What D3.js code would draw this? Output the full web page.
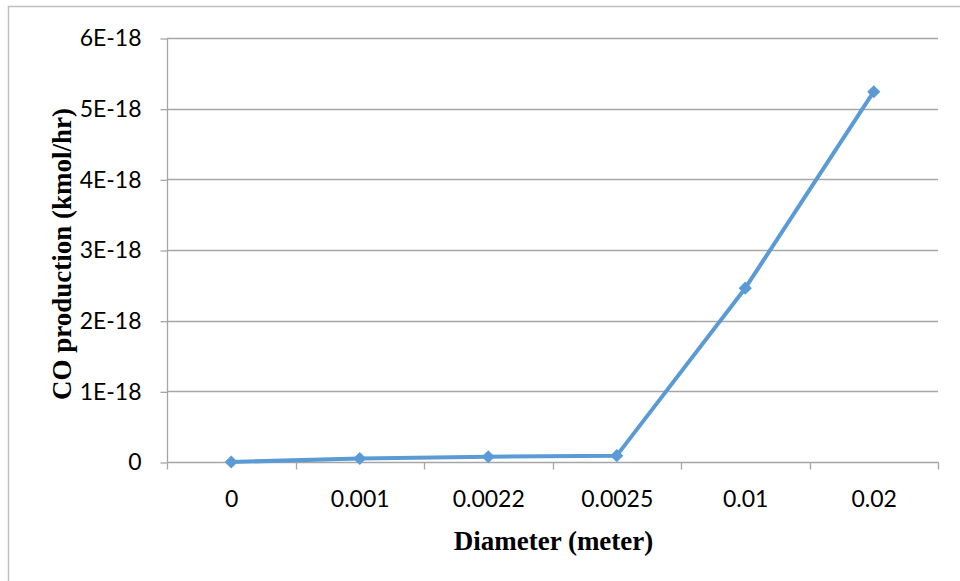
<!DOCTYPE html>
<html><head><meta charset="utf-8">
<script src="https://cdnjs.cloudflare.com/ajax/libs/d3/7.8.5/d3.min.js"></script>
<style>body{margin:0;background:#fff}svg{display:block}</style>
</head><body>
<script>
const categories = ["0", "0.001", "0.0022", "0.0025", "0.01", "0.02"];
const values = [0, 5e-20, 7.5e-20, 9e-20, 2.46e-18, 5.24e-18];
const yTicks = [0, 1e-18, 2e-18, 3e-18, 4e-18, 5e-18, 6e-18];
const yTickLabels = ["0", "1E-18", "2E-18", "3E-18", "4E-18", "5E-18", "6E-18"];
const xTitle = "Diameter (meter)";
const yTitle = "CO production (kmol/hr)";

const W = 960, H = 581;
const m = {left: 167, right: 22, top: 38, bottom: 119};
const svg = d3.select("body").append("svg").attr("width", W).attr("height", H);
svg.append("rect").attr("x", 8.5).attr("y", 6.5).attr("width", 960).attr("height", 600)
  .attr("fill", "#fff").attr("stroke", "#bfbfbf").attr("stroke-width", 1.5);

const x = d3.scaleBand().domain(categories).range([m.left, W - m.right]);
const y = d3.scaleLinear().domain([0, 6e-18]).range([H - m.bottom, m.top]);

const g = svg.append("g");
g.selectAll("line.grid").data(yTicks.slice(1)).join("line").attr("class", "grid")
  .attr("x1", m.left).attr("x2", W - m.right)
  .attr("y1", d => Math.round(y(d)) + 0.5).attr("y2", d => Math.round(y(d)) + 0.5)
  .attr("stroke", "#a6a6a6").attr("stroke-width", 1.3);

const tickFont = "Lato, 'Open Sans', sans-serif";
const yAxis = d3.axisLeft(y).tickValues(yTicks).tickSize(7).tickPadding(19)
  .tickFormat((d, i) => yTickLabels[i]);
const ya = svg.append("g").attr("transform", `translate(${m.left + 0.5},0.5)`).call(yAxis)
  .attr("font-size", 23).attr("font-family", tickFont);
ya.select(".domain").attr("stroke", "#a6a6a6").attr("stroke-width", 1.3).attr("d", `M0,${y(6e-18)}V${y(0)}`);
ya.selectAll(".tick line").attr("stroke", "#a6a6a6").attr("stroke-width", 1.3);
ya.selectAll(".tick text").attr("fill", "#000");

const xa = svg.append("g").attr("transform", `translate(0.5,${Math.round(y(0)) + 0.5})`);
xa.append("line").attr("x1", m.left).attr("x2", W - m.right).attr("stroke", "#a6a6a6").attr("stroke-width", 1.3);
const bounds = categories.map(c => x(c)).concat([x(categories[categories.length - 1]) + x.bandwidth()]);
xa.selectAll("line.tk").data(bounds).join("line").attr("class", "tk")
  .attr("x1", d => Math.round(d)).attr("x2", d => Math.round(d)).attr("y1", 0).attr("y2", 7)
  .attr("stroke", "#a6a6a6").attr("stroke-width", 1.3);
xa.selectAll("text").data(categories).join("text")
  .attr("x", d => x(d) + x.bandwidth() / 2).attr("y", 44.5).attr("text-anchor", "middle")
  .attr("font-family", tickFont).attr("font-size", 23).attr("fill", "#000").text(d => d);

const pts = categories.map((c, i) => [x(c) + x.bandwidth() / 2, y(values[i])]);
svg.append("path").attr("d", d3.line()(pts)).attr("fill", "none")
  .attr("stroke", "#5b9bd5").attr("stroke-width", 4).attr("stroke-linejoin", "round");
svg.selectAll("path.mk").data(pts).join("path").attr("class", "mk")
  .attr("transform", d => `translate(${d[0]},${d[1]})`)
  .attr("d", d3.symbol(d3.symbolDiamond2, 110)).attr("fill", "#5b9bd5");

const titleFont = "'Liberation Serif', 'Times New Roman', serif";
svg.append("text").attr("x", (m.left + W - m.right) / 2 + 1).attr("y", 550).attr("text-anchor", "middle")
  .attr("font-family", titleFont).attr("font-weight", "bold")
  .attr("font-size", 27).text(xTitle);
svg.append("text").attr("transform", `translate(71,254) rotate(-90)`)
  .attr("text-anchor", "middle")
  .attr("font-family", titleFont).attr("font-weight", "bold")
  .attr("font-size", 27).text(yTitle);
</script>
</body></html>
